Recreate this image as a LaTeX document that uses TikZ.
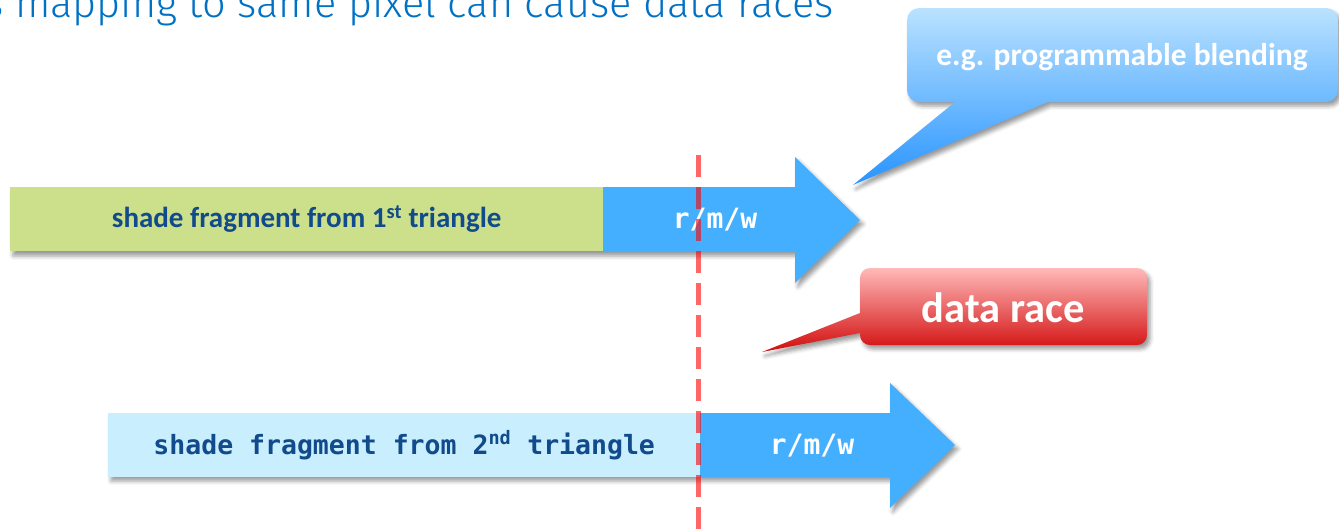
\documentclass[tikz,border=0pt]{standalone}
\usepackage{fontspec}
\setmainfont{Carlito}
\newfontfamily\monofont{DejaVu Sans Mono}
\IfFontExistsTF{Fira Sans Light}{\newfontfamily\titlefont{Fira Sans Light}}{\newfontfamily\titlefont{Carlito}}
\usetikzlibrary{shadows.blur}
\definecolor{barGreen}{RGB}{204,224,139}
\definecolor{barLight}{RGB}{201,238,253}
\definecolor{arrowBlue}{RGB}{69,175,255}
\definecolor{labelBlue}{RGB}{17,75,140}
\definecolor{titleBlue}{RGB}{0,113,197}
\definecolor{calBlueTop}{RGB}{186,226,255}
\definecolor{calBlueMid}{RGB}{80,172,255}
\definecolor{calBlueBot}{RGB}{40,148,255}
\definecolor{calRedTop}{RGB}{255,185,185}
\definecolor{calRedMid}{RGB}{255,40,40}
\definecolor{calRedBot}{RGB}{210,12,12}
\begin{document}
\begin{tikzpicture}[x=1pt,y=-1pt,
  sh/.style={blur shadow={shadow xshift=3pt, shadow yshift=-4pt, shadow blur radius=4pt, shadow opacity=40}},
  bar/.style={draw=none, inner sep=0pt, anchor=north west, minimum height=64pt},
  calibrilabel/.style={font=\fontsize{29}{34}\selectfont\bfseries, text=labelBlue},
  monolabel/.style={font=\monofont\fontsize{26.5}{30}\selectfont\bfseries, text=labelBlue},
  rmw/.style={font=\monofont\fontsize{28}{32}\selectfont\bfseries, text=white},
  calltext/.style={font=\bfseries, text=white},
  dashline/.style={draw=red, opacity=0.6, line width=5pt, dash pattern=on 22pt off 10pt}
]
\useasboundingbox (0,0) rectangle (1339,531);
\clip (0,0) rectangle (1339,531);

% title
\node[anchor=base west, inner sep=0pt, text=titleBlue, font=\titlefont\fontsize{41.5}{46}\selectfont] (title) at (-16,17) {s mapping to same pixel can cause data races};

% shadows of the two arrow rows
\path[sh] (10,187) -- (795,187) -- (795,157) -- (860,220) -- (795,283) -- (795,252) -- (10,252) -- cycle;
\path[sh] (108,413) -- (890,413) -- (890,383) -- (955,445) -- (890,508) -- (890,477) -- (108,477) -- cycle;

% row 1
\node[bar, fill=barGreen, minimum width=593pt, calibrilabel] (bar1) at (10,187) {shade fragment from 1\textsuperscript{st} triangle};
\path[fill=arrowBlue] (603,187) -- (795,187) -- (795,157) -- (860,220) -- (795,283) -- (795,252) -- (603,252) -- cycle;
\node[rmw] (rmw1) at (715,220) {r/m/w};

% row 2
\node[bar, fill=barLight, minimum width=592pt, monolabel] (bar2) at (108,413) {shade fragment from 2\textsuperscript{nd} triangle};
\path[fill=arrowBlue] (700,413) -- (890,413) -- (890,383) -- (955,445) -- (890,508) -- (890,477) -- (700,477) -- cycle;
\node[rmw] (rmw2) at (812,446) {r/m/w};

% blue callout
\path[sh, top color=calBlueTop, middle color=calBlueMid, bottom color=calBlueBot]
  (853,185) -- (955,102) [rounded corners=12pt] -- (907,102) -- (907,8) -- (1338,8) -- (1338,102) [sharp corners] -- (1048,102) -- cycle;
\node[calltext, font=\fontsize{31.5}{36}\selectfont\bfseries] (blend) at (1122,57) {e.g. programmable blending};

% red callout
\path[sh, top color=calRedTop, middle color=calRedMid, bottom color=calRedBot]
  (762,352) -- (860,313) [rounded corners=10pt] -- (860,268) -- (1147,268) -- (1147,345) -- (860,345) [sharp corners] -- (860,333) -- cycle;
\node[calltext, font=\fontsize{42.5}{46}\selectfont\bfseries] (race) at (1003,308) {data race};

% dashed divider
\coordinate (dtop) at (698,155);
\coordinate (dbot) at (698,531);
\draw[dashline] (dtop) -- (dbot);
\end{tikzpicture}
\end{document}
